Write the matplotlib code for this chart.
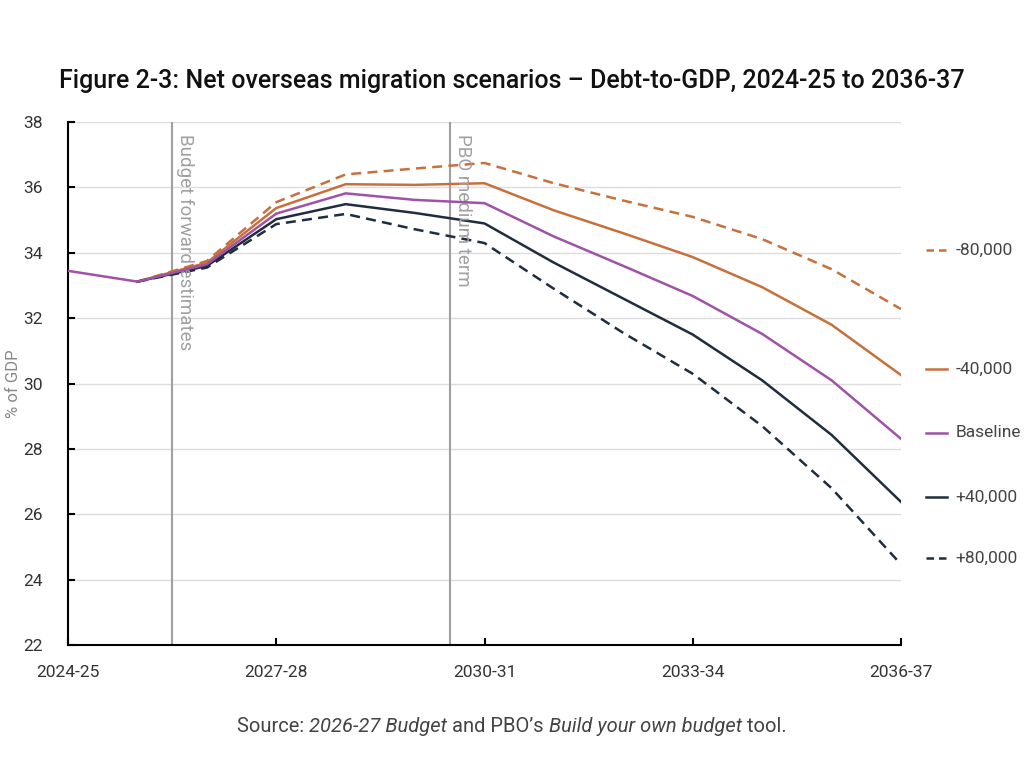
import numpy as np
import matplotlib.pyplot as plt

anos = ['2024-25', '2025-26', '2026-27', '2027-28', '2028-29', '2029-30', '2030-31',
        '2031-32', '2032-33', '2033-34', '2034-35', '2035-36', '2036-37']
rotulos_eixo = ['2024-25', '2027-28', '2030-31', '2033-34', '2036-37']

menos_80k = [33.45, 33.12, 33.75, 35.55, 36.40, 36.58, 36.75, 36.13, 35.60, 35.10, 34.42, 33.50, 32.28]
menos_40k = [33.45, 33.12, 33.70, 35.37, 36.10, 36.08, 36.13, 35.30, 34.60, 33.87, 32.95, 31.80, 30.26]
baseline = [33.45, 33.12, 33.65, 35.20, 35.82, 35.62, 35.52, 34.50, 33.60, 32.68, 31.52, 30.10, 28.31]
mais_40k = [33.45, 33.12, 33.60, 35.03, 35.49, 35.22, 34.90, 33.70, 32.60, 31.50, 30.10, 28.43, 26.38]
mais_80k = [33.45, 33.12, 33.55, 34.88, 35.19, 34.72, 34.30, 32.90, 31.55, 30.30, 28.70, 26.80, 24.47]

laranja = '#C8703C'
roxo = '#A052A8'
marinho = '#1F2D3F'
cinza = '#A0A0A0'

series = [
    ('-80,000', menos_80k, laranja, '--', 34.09),
    ('-40,000', menos_40k, laranja, '-', 30.45),
    ('Baseline', baseline, roxo, '-', 28.49),
    ('+40,000', mais_40k, marinho, '-', 26.53),
    ('+80,000', mais_80k, marinho, '--', 24.67),
]

plt.rcParams['font.family'] = ['Roboto', 'DejaVu Sans']

fig = plt.figure(figsize=(10.24, 7.68), dpi=100)
ax = fig.add_axes([0.0664, 0.160, 0.8135, 0.681])

x = np.arange(len(anos))

for rotulo, valores, cor, estilo, y_rotulo in series:
    tracos = (4, 2.5) if estilo == '--' else (None, None)
    if rotulo == 'Baseline':
        ax.plot(x, valores, color=cor, linewidth=1.8, zorder=4)
    else:
        ax.plot(x[1:], valores[1:], color=cor, linestyle=estilo, linewidth=1.8,
                dashes=tracos, zorder=3)
    ax.plot([12.36, 12.66], [y_rotulo, y_rotulo], color=cor, linewidth=1.8,
            linestyle=estilo, dashes=(3, 2) if estilo == '--' else (None, None),
            clip_on=False)
    ax.text(12.78, y_rotulo, rotulo, color='#444444', fontsize=12.5, va='center',
            clip_on=False)

ax.axvline(1.5, color=cinza, linewidth=1.5, zorder=2)
ax.axvline(5.5, color=cinza, linewidth=1.5, zorder=2)
ax.text(1.56, 37.65, 'Budget forward estimates', rotation=-90, color=cinza,
        fontsize=13.5, va='top', ha='left')
ax.text(5.56, 37.65, 'PBO medium term', rotation=-90, color=cinza,
        fontsize=13.5, va='top', ha='left')

ax.set_xlim(0, 12)
ax.set_ylim(22, 38)
ax.set_yticks(np.arange(22, 39, 2))
ax.set_xticks([0, 3, 6, 9, 12])
ax.set_xticklabels(rotulos_eixo)
ax.grid(axis='y', color='#DDDDDD', linewidth=1)
ax.set_axisbelow(True)

for lado in ['top', 'right']:
    ax.spines[lado].set_visible(False)
ax.spines['left'].set_linewidth(1.5)
ax.spines['bottom'].set_linewidth(1.5)
ax.tick_params(axis='both', direction='in', length=5, width=1.5, labelsize=12.5,
               labelcolor='#333333')
ax.tick_params(axis='x', pad=14)
ax.tick_params(axis='y', pad=18)

ax.set_ylabel('% of GDP', color='#888888', fontsize=12)
ax.yaxis.set_label_coords(-0.056, 0.5)

fig.text(0.5, 0.895, 'Figure 2-3: Net overseas migration scenarios \u2013 Debt-to-GDP, 2024-25 to 2036-37',
         ha='center', va='center', fontsize=18, fontweight='medium', color='#111111')

# fonte montada em pedacos para ter italico so nos titulos
pedacos = [('Source: ', 'normal'), ('2026-27 Budget', 'italic'), (' and PBO\u2019s ', 'normal'),
           ('Build your own budget', 'italic'), (' tool.', 'normal')]
renderer = fig.canvas.get_renderer()
textos = []
largura_total = 0
for conteudo, estilo in pedacos:
    t = fig.text(0, 0.054, conteudo, style=estilo, fontsize=14.5, color='#444444', va='center')
    w = t.get_window_extent(renderer).width
    textos.append((t, w))
    largura_total += w
pos = (fig.bbox.width - largura_total) / 2
for t, w in textos:
    t.set_x(pos / fig.bbox.width)
    pos += w

plt.savefig('out.png', dpi=100)
plt.close()
